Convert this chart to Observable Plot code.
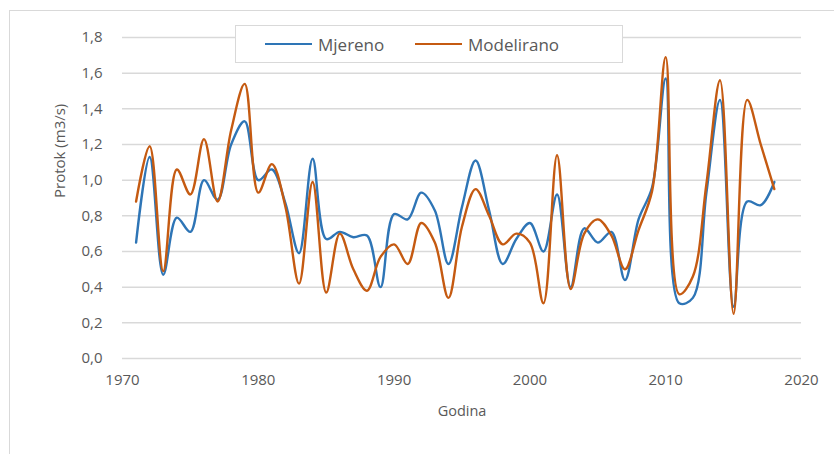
<!DOCTYPE html>
<html>
<head>
<meta charset="utf-8">
<script src="https://cdn.jsdelivr.net/npm/d3@7"></script>
<script src="https://cdn.jsdelivr.net/npm/@observablehq/plot@0.6"></script>
<style>
  html, body { margin: 0; padding: 0; background: #fff; overflow: hidden; }
  #wrap { position: relative; width: 834px; height: 454px; overflow: hidden; font-family: "Open Sans", sans-serif; }
  #frame { position: absolute; left: 9px; top: 10px; width: 900px; height: 500px; border: 1px solid #d9d9d9; box-sizing: border-box; }
  #chart { position: absolute; left: 0; top: 0; }
  #legend { position: absolute; left: 235px; top: 25px; width: 388px; height: 38px; border: 1px solid #d9d9d9; background: #fff; box-sizing: border-box; }
  .item { position: absolute; top: 0; height: 36px; display: flex; align-items: center; color: #595959; font-size: 17px; }
  .sw { display: inline-block; width: 47px; height: 2.5px; margin-right: 6px; }
</style>
</head>
<body>
<div id="wrap">
  <div id="frame"></div>
  <div id="chart"></div>
  <div id="legend"></div>
</div>
<script>
const years = d3.range(1971, 2019);
const mjereno = [0.65, 1.13, 0.47, 0.79, 0.71, 1.00, 0.89, 1.20, 1.33, 1.00,
                 1.06, 0.87, 0.59, 1.12, 0.67, 0.71, 0.68, 0.69, 0.40, 0.81,
                 0.78, 0.93, 0.83, 0.53, 0.85, 1.11, 0.83, 0.53, 0.67, 0.76,
                 0.60, 0.92, 0.40, 0.73, 0.65, 0.71, 0.44, 0.78, 0.96, 1.57,
                 0.31, 0.34, 0.93, 1.45, 0.29, 0.88, 0.86, 0.99];
const modelirano = [0.88, 1.19, 0.49, 1.06, 0.92, 1.23, 0.88, 1.28, 1.54, 0.93,
                    1.09, 0.85, 0.42, 0.99, 0.37, 0.70, 0.50, 0.38, 0.57, 0.64,
                    0.53, 0.76, 0.65, 0.34, 0.74, 0.95, 0.80, 0.64, 0.70, 0.65,
                    0.31, 1.14, 0.39, 0.70, 0.78, 0.69, 0.50, 0.72, 0.94, 1.69,
                    0.36, 0.46, 0.98, 1.56, 0.25, 1.45, 1.20, 0.95];
const seriesNames = ["Mjereno", "Modelirano"];
const seriesColors = ["#2E75B6", "#C55A11"];
const xTicks = [1970, 1980, 1990, 2000, 2010, 2020];
const yTicks = [0, 0.2, 0.4, 0.6, 0.8, 1.0, 1.2, 1.4, 1.6, 1.8];
const xLabel = "Godina";
const yLabel = "Protok (m3/s)";

const data = [];
years.forEach((y, i) => data.push({year: y, value: mjereno[i], series: seriesNames[0]}));
years.forEach((y, i) => data.push({year: y, value: modelirano[i], series: seriesNames[1]}));

const fmt = d => d.toFixed(1).replace(".", ",");

const chart = Plot.plot({
  width: 834,
  height: 454,
  marginLeft: 122,
  marginRight: 33,
  marginTop: 37,
  marginBottom: 96,
  style: {fontFamily: "'Open Sans', sans-serif", fontSize: "15px", color: "#595959", background: "transparent", overflow: "visible"},
  x: {domain: [1970, 2020]},
  y: {domain: [0, 1.8]},
  color: {domain: seriesNames, range: seriesColors},
  marks: [
    Plot.gridY(yTicks, {stroke: "#d9d9d9", strokeOpacity: 1, strokeWidth: 1.5}),
    Plot.axisY(yTicks, {tickSize: 0, tickPadding: 20, tickFormat: fmt, label: null, fill: "#595959", fontSize: 15}),
    Plot.axisX(xTicks, {tickSize: 0, tickPadding: 16, tickFormat: d => String(d), label: null, fill: "#595959", fontSize: 15}),
    Plot.text([xLabel], {text: d => d, frameAnchor: "bottom", dy: 57, fill: "#595959", fontSize: 14.5}),
    Plot.text([yLabel], {text: d => d, frameAnchor: "left", dx: -62, rotate: -90, fill: "#595959", fontSize: 15}),
    Plot.line(data, {x: "year", y: "value", stroke: "series", z: "series", curve: "catmull-rom", strokeWidth: 2.4})
  ]
});
document.getElementById("chart").appendChild(chart);

const legend = document.getElementById("legend");
const positions = [29, 179];
seriesNames.forEach((name, i) => {
  const item = document.createElement("div");
  item.className = "item";
  item.style.left = positions[i] + "px";
  const sw = document.createElement("span");
  sw.className = "sw";
  sw.style.background = seriesColors[i];
  item.appendChild(sw);
  item.appendChild(document.createTextNode(name));
  legend.appendChild(item);
});
</script>
</body>
</html>
